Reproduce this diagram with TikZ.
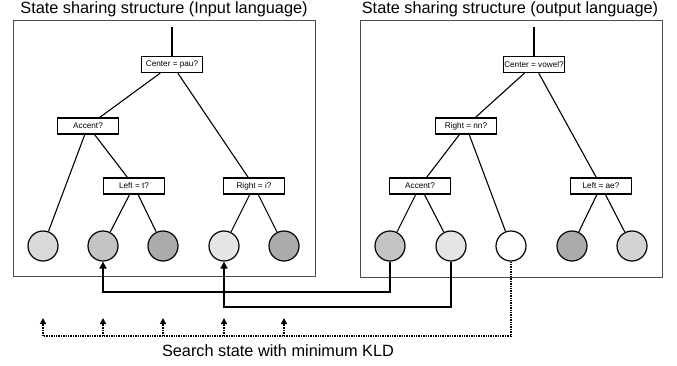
\documentclass[tikz,border=0pt]{standalone}
\usepackage{fontspec}
\setmainfont{Liberation Sans}
\usetikzlibrary{positioning, arrows.meta}

\definecolor{shadeA}{gray}{0.85}
\definecolor{shadeB}{gray}{0.77}
\definecolor{shadeC}{gray}{0.67}
\definecolor{shadeD}{gray}{0.90}
\definecolor{shadeE}{gray}{0.83}

\tikzset{
  qbox/.style={draw, line width=1.3pt, fill=white, minimum width=61pt, minimum height=16pt,
    inner sep=1pt, font=\fontsize{8.2}{9}\selectfont},
  leaf/.style={circle, draw, line width=1.2pt, minimum size=30pt, inner sep=0pt},
  edge/.style={line width=1.1pt},
  frame/.style={draw=black!70, line width=0.8pt},
  link/.style={line width=1.9pt, -{Triangle[length=7pt, width=7pt]}},
  search/.style={line width=1.4pt, densely dotted},
}

\begin{document}
\begin{tikzpicture}[x=1pt, y=-1pt]
	\useasboundingbox (0,0) rectangle (677,366);
	
	% Draw frames and titles
	\draw[frame] (13,20) rectangle (315,276);
	\draw[frame] (360,20) rectangle (662,277);
	\node[font=\fontsize{16.3}{18}\selectfont] (tin) at (164,9) {State sharing structure (Input language)};
	\node[font=\fontsize{16.3}{18}\selectfont] (tout) at (510,9) {State sharing structure (output language)};
	
	% Input language tree
	\coordinate (rin) at (172,27);
	\node[qbox] (c1) at (172,64.5) {Center = pau?};
	\node[qbox] (c2) at (88,126) {Accent?};
	\node[qbox] (c3) at (134,186) {Left = t?};
	\node[qbox] (c4) at (254,186) {Right = i?};
	\foreach \n/\x/\col in {1/43/shadeA, 2/103/shadeB, 3/163/shadeC, 4/224/shadeD, 5/284/shadeC}
	\node[leaf, fill=\col] (p\n) at (\x,246) {};
	
	\draw[edge] (rin) -- (c1);
	\draw[edge] (c1) -- (c2);
	\draw[edge] (c1) -- (c4);
	\draw[edge] (c2) -- (p1);
	\draw[edge] (c2) -- (c3);
	\draw[edge] (c3) -- (p2);
	\draw[edge] (c3) -- (p3);
	\draw[edge] (c4) -- (p4);
	\draw[edge] (c4) -- (p5);
	
	% Output language tree
	\coordinate (rout) at (534,27);
	\node[qbox] (d1) at (534,64.5) {Center = vowel?};
	\node[qbox] (d2) at (466,126) {Right = nn?};
	\node[qbox] (d3) at (420,186) {Accent?};
	\node[qbox] (d4) at (601,186) {Left = ae?};
	\foreach \n/\x/\col in {1/390/shadeB, 2/451/shadeD, 3/511/white, 4/572/shadeC, 5/632/shadeE}
	\node[leaf, fill=\col] (q\n) at (\x,246) {};
	
	\draw[edge] (rout) -- (d1);
	\draw[edge] (d1) -- (d2);
	\draw[edge] (d1) -- (d4);
	\draw[edge] (d2) -- (d3);
	\draw[edge] (d2) -- (q3);
	\draw[edge] (d3) -- (q1);
	\draw[edge] (d3) -- (q2);
	\draw[edge] (d4) -- (q4);
	\draw[edge] (d4) -- (q5);
	
	% Shared states
	\draw[link] (q1) -- ++(0,46) -| (p2);
	\draw[link] (q2) -- ++(0,61) -| (p4);
	
	% Search over all input states
	\foreach \n/\x in {1/43, 2/103, 3/163, 4/224, 5/284}
	\coordinate (s\n) at (\x,336);
	\draw[search] (q3) |- (s1);
	\foreach \n in {1,...,5}
	\draw[search, -{Triangle[length=6pt, width=6pt]}] (s\n) -- ++(0,-18);
	\node[font=\fontsize{16.3}{18}\selectfont] (kld) at (278,351) {Search state with minimum KLD};
	
\end{tikzpicture}
\end{document}
